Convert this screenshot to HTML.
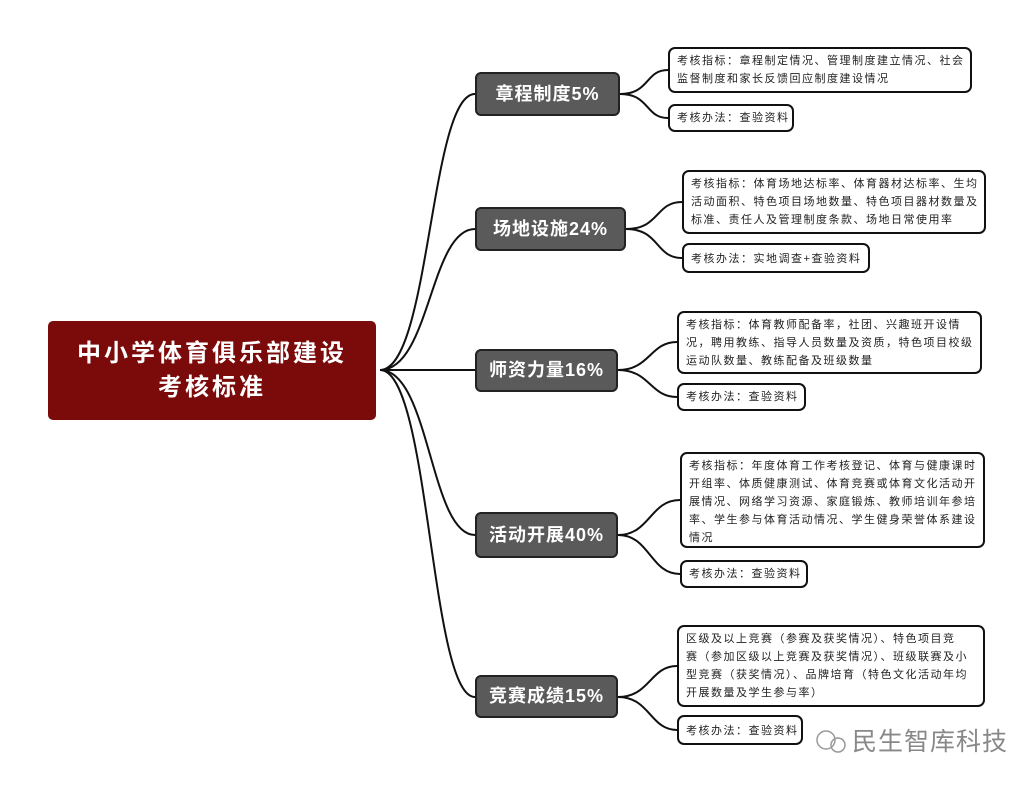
<!DOCTYPE html>
<html><head><meta charset="utf-8"><style>
html,body{margin:0;padding:0;background:#fff;}
body{width:1036px;height:785px;position:relative;overflow:hidden;font-family:"Liberation Sans","Noto Sans CJK SC",sans-serif;}
.root{position:absolute;left:48px;top:321px;width:328px;height:99px;background:#7b0a0a;border-radius:5px;color:#fff;font-weight:bold;font-size:24px;letter-spacing:3px;text-align:center;line-height:34px;padding-top:16px;box-sizing:border-box;}
.br{position:absolute;background:#5a5a5a;border:2px solid #222;border-radius:6px;color:#fff;font-weight:bold;font-size:18px;letter-spacing:1px;text-align:center;box-sizing:border-box;}
.lf{position:absolute;background:#fff;border:2px solid #111;border-radius:7px;box-sizing:border-box;font-size:11px;letter-spacing:1.5px;line-height:18px;color:#222;padding:3px 4px 0 7px;white-space:nowrap;overflow:hidden;}
svg{position:absolute;left:0;top:0;}
.wm{position:absolute;left:852px;top:722px;font-size:25px;color:#888;letter-spacing:1px;}
</style></head><body>
<svg width="1036" height="785" fill="none" stroke="#111" stroke-width="2">
<path d="M380 370 C430 370 430 94 475 94"/>
<path d="M380 370 C430 370 430 229 475 229"/>
<path d="M380 370 L475 370"/>
<path d="M380 370 C430 370 430 535 475 535"/>
<path d="M380 370 C430 370 430 697 475 697"/>
<path d="M620 94 C650 94 645 70 668 70"/>
<path d="M620 94 C650 94 645 118 668 118"/>
<path d="M626 229 C660 229 655 202 682 202"/>
<path d="M626 229 C660 229 655 258 682 258"/>
<path d="M618 370 C650 370 650 342 677 342"/>
<path d="M618 370 C650 370 650 397 677 397"/>
<path d="M618 535 C650 535 650 500 680 500"/>
<path d="M618 535 C650 535 650 574 680 574"/>
<path d="M618 697 C650 697 650 666 677 666"/>
<path d="M618 697 C650 697 650 730 677 730"/>
<circle cx="826" cy="740" r="9" stroke="#999" stroke-width="1.5"/>
<circle cx="838" cy="745" r="7" stroke="#999" stroke-width="1.5"/>
</svg>
<div class="root">中小学体育俱乐部建设<br>考核标准</div>
<div class="br" style="left:475px;top:72px;width:145px;height:44px;line-height:40px">章程制度5%</div>
<div class="br" style="left:475px;top:207px;width:151px;height:44px;line-height:40px">场地设施24%</div>
<div class="br" style="left:475px;top:349px;width:143px;height:43px;line-height:39px">师资力量16%</div>
<div class="br" style="left:475px;top:512px;width:143px;height:46px;line-height:42px">活动开展40%</div>
<div class="br" style="left:475px;top:675px;width:143px;height:43px;line-height:39px">竞赛成绩15%</div>

<div class="lf" style="left:668px;top:47px;width:304px;height:46px">考核指标：章程制定情况、管理制度建立情况、社会<br>监督制度和家长反馈回应制度建设情况</div>
<div class="lf" style="left:668px;top:104px;width:126px;height:28px">考核办法：查验资料</div>
<div class="lf" style="left:682px;top:170px;width:304px;height:64px">考核指标：体育场地达标率、体育器材达标率、生均<br>活动面积、特色项目场地数量、特色项目器材数量及<br>标准、责任人及管理制度条款、场地日常使用率</div>
<div class="lf" style="left:682px;top:243px;width:188px;height:30px;line-height:22px">考核办法：实地调查+查验资料</div>
<div class="lf" style="left:677px;top:311px;width:305px;height:63px">考核指标：体育教师配备率，社团、兴趣班开设情<br>况，聘用教练、指导人员数量及资质，特色项目校级<br>运动队数量、教练配备及班级数量</div>
<div class="lf" style="left:677px;top:383px;width:129px;height:28px">考核办法：查验资料</div>
<div class="lf" style="left:680px;top:452px;width:305px;height:96px">考核指标：年度体育工作考核登记、体育与健康课时<br>开组率、体质健康测试、体育竞赛或体育文化活动开<br>展情况、网络学习资源、家庭锻炼、教师培训年参培<br>率、学生参与体育活动情况、学生健身荣誉体系建设<br>情况</div>
<div class="lf" style="left:680px;top:560px;width:128px;height:28px">考核办法：查验资料</div>
<div class="lf" style="left:677px;top:625px;width:308px;height:82px">区级及以上竞赛（参赛及获奖情况）、特色项目竞<br>赛（参加区级以上竞赛及获奖情况）、班级联赛及小<br>型竞赛（获奖情况）、品牌培育（特色文化活动年均<br>开展数量及学生参与率）</div>
<div class="lf" style="left:677px;top:715px;width:126px;height:30px;line-height:22px">考核办法：查验资料</div>
<div class="wm">民生智库科技</div>
</body></html>
